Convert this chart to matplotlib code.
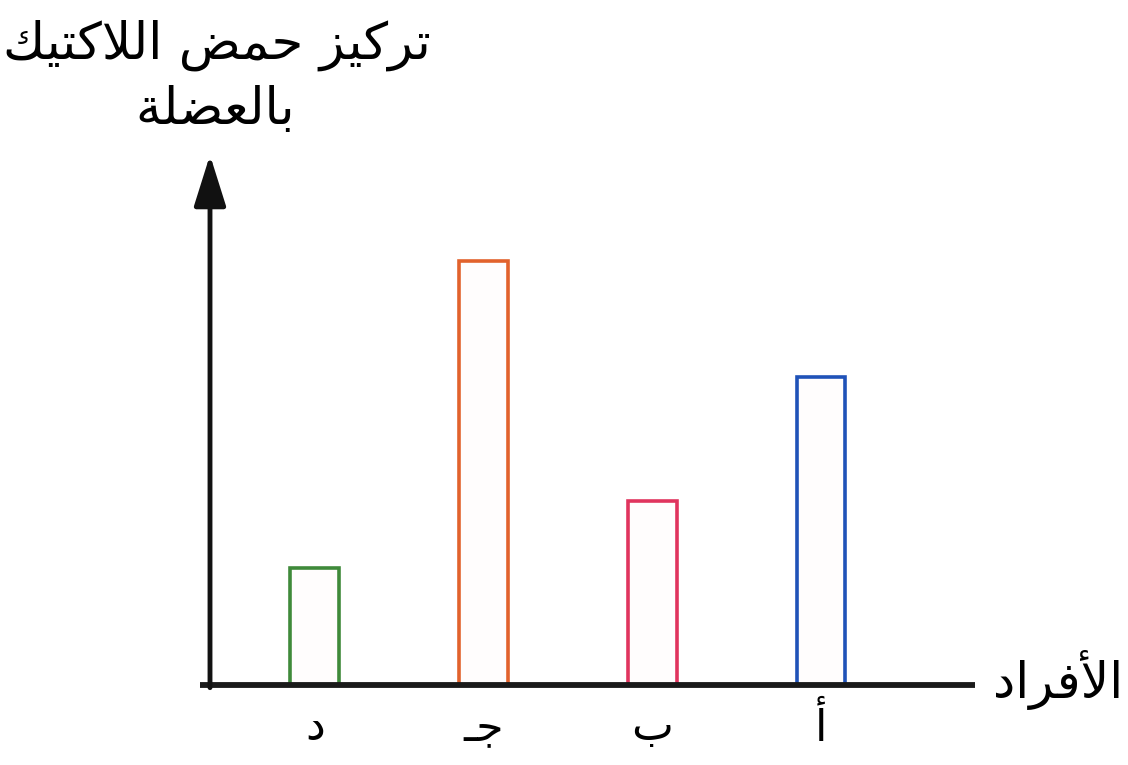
import matplotlib
matplotlib.use('Agg')
import matplotlib.pyplot as plt

# simple arabic shaping (presentation forms) since matplotlib has no shaping
FORMS = {
    '\u0627': ('\uFE8D', '\uFE8E', None, None),
    '\u0623': ('\uFE83', '\uFE84', None, None),
    '\u0628': ('\uFE8F', '\uFE90', '\uFE91', '\uFE92'),
    '\u0629': ('\uFE93', '\uFE94', None, None),
    '\u062A': ('\uFE95', '\uFE96', '\uFE97', '\uFE98'),
    '\u062C': ('\uFE9D', '\uFE9E', '\uFE9F', '\uFEA0'),
    '\u062D': ('\uFEA1', '\uFEA2', '\uFEA3', '\uFEA4'),
    '\u062F': ('\uFEA9', '\uFEAA', None, None),
    '\u0631': ('\uFEAD', '\uFEAE', None, None),
    '\u0632': ('\uFEAF', '\uFEB0', None, None),
    '\u0636': ('\uFEBD', '\uFEBE', '\uFEBF', '\uFEC0'),
    '\u0639': ('\uFEC9', '\uFECA', '\uFECB', '\uFECC'),
    '\u0641': ('\uFED1', '\uFED2', '\uFED3', '\uFED4'),
    '\u0643': ('\uFED9', '\uFEDA', '\uFEDB', '\uFEDC'),
    '\u0644': ('\uFEDD', '\uFEDE', '\uFEDF', '\uFEE0'),
    '\u0645': ('\uFEE1', '\uFEE2', '\uFEE3', '\uFEE4'),
    '\u064A': ('\uFEF1', '\uFEF2', '\uFEF3', '\uFEF4'),
    '\u0640': ('\u0640', '\u0640', '\u0640', '\u0640'),
}
LAMALEF = {'\u0627': ('\uFEFB', '\uFEFC'), '\u0623': ('\uFEF7', '\uFEF8')}


def dual(c):
    return c in FORMS and FORMS[c][2] is not None


def shape(txt):
    out = []
    i = 0
    n = len(txt)
    while i < n:
        c = txt[i]
        if c not in FORMS:
            out.append(c)
            i += 1
            continue
        prev_join = i > 0 and dual(txt[i - 1])
        if c == '\u0644' and i + 1 < n and txt[i + 1] in LAMALEF:
            out.append(LAMALEF[txt[i + 1]][1 if prev_join else 0])
            i += 2
            continue
        next_join = dual(c) and i + 1 < n and txt[i + 1] in FORMS
        f = FORMS[c]
        if prev_join and next_join:
            out.append(f[3])
        elif prev_join:
            out.append(f[1])
        elif next_join:
            out.append(f[2])
        else:
            out.append(f[0])
        i += 1
    return ''.join(out)[::-1]


# data (display order left to right)
categories = ['د', 'جـ', 'ب', 'أ']
lactic = [1.0, 3.62, 1.57, 2.63]
bar_colors = ['#3f8a3a', '#e2622c', '#e0345e', '#1f52b8']
y_title = ['تركيز حمض اللاكتيك', 'بالعضلة']
x_title = 'الأفراد'

fig = plt.figure(figsize=(11.28, 7.65), dpi=100)
ax = fig.add_axes([210/1128, 80/765, 765/1128, 530/765])
xpos = [1, 2, 3, 4]
ax.bar(xpos, lactic, width=0.29, facecolor='#fffdfd', edgecolor=bar_colors, linewidth=2.6)
ax.set_xlim(0.378, 4.913)
ax.set_ylim(0, 4.53)
for s in ax.spines.values():
    s.set_visible(False)
ax.set_xticks([])
ax.set_yticks([])

# axes lines
ax.plot([-0.013, 1], [0, 0], transform=ax.transAxes, color='#1a1a1a', lw=4.2, clip_on=False, solid_capstyle='butt')
ax.annotate('', xy=(0, 1), xytext=(0, -0.005), xycoords='axes fraction',
            arrowprops=dict(arrowstyle='-|>,head_length=0.7,head_width=0.22', lw=3.5, color='#111111',
                            mutation_scale=45, shrinkA=0, shrinkB=0))

for x, lab in zip(xpos, categories):
    ax.text(x, -0.08, shape(lab), transform=ax.get_xaxis_transform(), ha='center', va='center',
            fontsize=32, family='DejaVu Sans')

fig.text(1058/1128, 1 - 680/765, shape(x_title), ha='center', va='center', fontsize=36, family='DejaVu Sans')
fig.text(217/1128, 1 - 45/765, shape(y_title[0]), ha='center', va='center', fontsize=37, family='DejaVu Sans')
fig.text(215/1128, 1 - 110/765, shape(y_title[1]), ha='center', va='center', fontsize=37, family='DejaVu Sans')

fig.savefig('out.png', dpi=100, facecolor='white')
